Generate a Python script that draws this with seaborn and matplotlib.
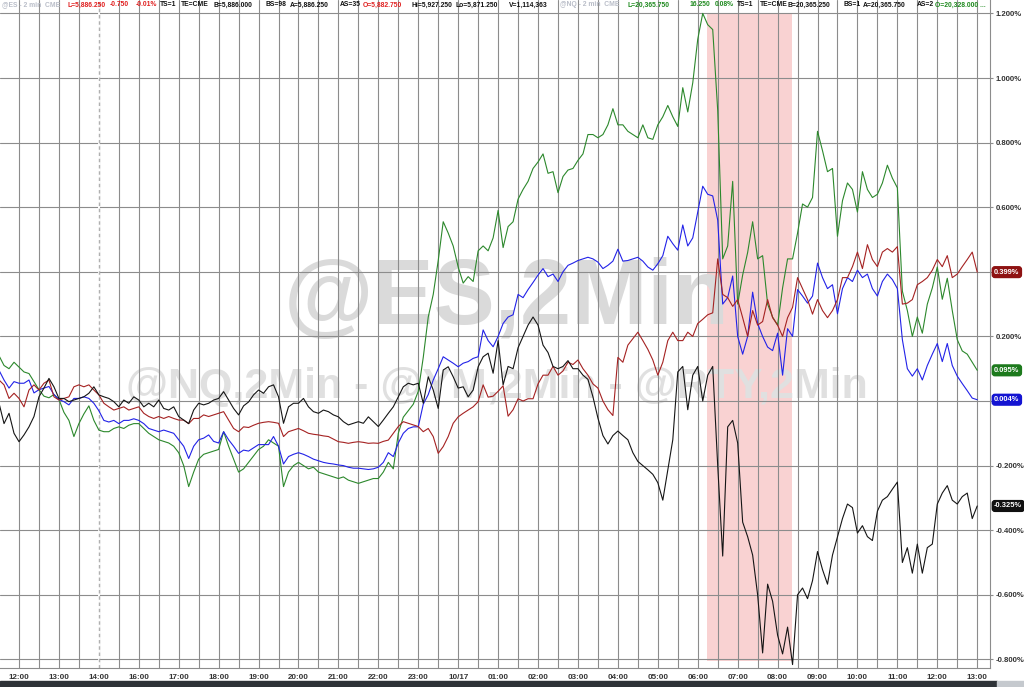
import numpy as np
import pandas as pd
import matplotlib
matplotlib.use('Agg')
import matplotlib.pyplot as plt
from matplotlib.patches import Rectangle
import seaborn as sns

# session clock labels (one per hour, 15:00 is the break so it is skipped)
hour_labels = ['12:00', '13:00', '14:00', '16:00', '17:00', '18:00', '19:00', '20:00',
               '21:00', '22:00', '23:00', '10/17', '01:00', '02:00', '03:00', '04:00',
               '05:00', '06:00', '07:00', '08:00', '09:00', '10:00', '11:00', '12:00', '13:00']

# % change, one reading every 7.5 minutes starting 11:30
nq = [0.14, 0.11, 0.10, 0.12, 0.105, 0.09, 0.085, 0.06, 0.035, 0.015,
      0.01, 0.02, 0.005, -0.035, -0.06, -0.11, -0.07, -0.04, -0.015, -0.06,
      -0.09, -0.095, -0.095, -0.085, -0.08, -0.085, -0.075, -0.07, -0.07, -0.085,
      -0.10, -0.11, -0.12, -0.125, -0.13, -0.14, -0.16, -0.2, -0.265, -0.22,
      -0.18, -0.165, -0.16, -0.155, -0.15, -0.095, -0.14, -0.18, -0.22, -0.21,
      -0.19, -0.17, -0.15, -0.14, -0.12, -0.13, -0.14, -0.265, -0.22, -0.2,
      -0.19, -0.2, -0.21, -0.205, -0.22, -0.225, -0.23, -0.235, -0.24, -0.235,
      -0.245, -0.25, -0.255, -0.25, -0.245, -0.24, -0.24, -0.22, -0.19, -0.21,
      -0.10, -0.05, -0.03, -0.01, 0.03, 0.135, 0.26, 0.33, 0.435, 0.555,
      0.52, 0.48, 0.415, 0.365, 0.385, 0.37, 0.465, 0.48, 0.465, 0.505,
      0.59, 0.475, 0.54, 0.555, 0.625, 0.655, 0.68, 0.72, 0.74, 0.765,
      0.705, 0.71, 0.645, 0.695, 0.715, 0.72, 0.745, 0.765, 0.825, 0.825,
      0.815, 0.825, 0.855, 0.905, 0.855, 0.855, 0.835, 0.825, 0.815, 0.855,
      0.815, 0.81, 0.855, 0.88, 0.915, 0.88, 0.85, 0.97, 0.895, 0.985,
      1.12, 1.2, 1.165, 1.15, 0.9, 0.44, 0.48, 0.68, 0.3, 0.39,
      0.46, 0.555, 0.44, 0.45, 0.3, 0.26, 0.235, 0.35, 0.44, 0.44,
      0.52, 0.61, 0.6, 0.63, 0.835, 0.775, 0.71, 0.72, 0.51, 0.62,
      0.675, 0.655, 0.585, 0.71, 0.655, 0.63, 0.64, 0.675, 0.73, 0.69,
      0.66, 0.34, 0.28, 0.2, 0.26, 0.21, 0.3, 0.35, 0.415, 0.315,
      0.38, 0.28, 0.19, 0.155, 0.145, 0.12, 0.095]

es = [0.095, 0.065, 0.04, 0.06, 0.055, 0.055, 0.065, 0.025, 0.035, 0.04,
      0.045, 0.02, 0.005, -0.002, -0.012, 0.008, 0.008, 0.013, 0.008, -0.007,
      -0.03, -0.06, -0.065, -0.06, -0.07, -0.06, -0.06, -0.055, -0.06, -0.07,
      -0.085, -0.09, -0.095, -0.09, -0.095, -0.1, -0.12, -0.14, -0.178, -0.14,
      -0.12, -0.115, -0.105, -0.125, -0.13, -0.095, -0.12, -0.14, -0.162, -0.152,
      -0.155, -0.145, -0.135, -0.135, -0.135, -0.11, -0.14, -0.195, -0.172, -0.165,
      -0.16, -0.165, -0.172, -0.18, -0.185, -0.19, -0.193, -0.195, -0.198, -0.2,
      -0.205, -0.208, -0.208, -0.21, -0.212, -0.21, -0.205, -0.19, -0.16, -0.172,
      -0.13, -0.1, -0.085, -0.08, -0.08, -0.01, 0.02, 0.065, 0.1, 0.137,
      0.127, 0.117, 0.106, 0.117, 0.122, 0.132, 0.137, 0.22, 0.187, 0.168,
      0.2, 0.24, 0.26, 0.267, 0.33, 0.32, 0.345, 0.367, 0.39, 0.41,
      0.385, 0.393, 0.37, 0.4, 0.42, 0.427, 0.435, 0.44, 0.445, 0.44,
      0.43, 0.41, 0.42, 0.433, 0.47, 0.433, 0.435, 0.44, 0.445, 0.433,
      0.415, 0.405, 0.425, 0.45, 0.51, 0.487, 0.467, 0.545, 0.48, 0.505,
      0.585, 0.665, 0.64, 0.635, 0.56, 0.3, 0.32, 0.387, 0.2, 0.145,
      0.2, 0.337, 0.24, 0.2, 0.167, 0.156, 0.21, 0.08, 0.224, 0.2,
      0.345, 0.325, 0.303, 0.325, 0.427, 0.382, 0.348, 0.36, 0.27, 0.348,
      0.382, 0.37, 0.405, 0.382, 0.393, 0.348, 0.325, 0.37, 0.393, 0.376,
      0.348, 0.19, 0.1, 0.077, 0.1, 0.065, 0.11, 0.145, 0.178, 0.122,
      0.178, 0.11, 0.077, 0.054, 0.032, 0.009, 0.004]

ym = [0.065, 0.05, 0.008, 0.024, 0.008, -0.018, 0.034, 0.05, 0.034, 0.055,
      0.065, 0.013, 0.003, 0.008, 0.013, 0.044, 0.05, 0.044, 0.05, 0.034,
      0.019, -0.007, -0.018, -0.028, -0.023, -0.018, -0.028, -0.023, -0.018, -0.038,
      -0.048, -0.054, -0.048, -0.054, -0.048, -0.054, -0.059, -0.059, -0.07, -0.054,
      -0.054, -0.043, -0.048, -0.043, -0.038, -0.033, -0.059, -0.085, -0.095, -0.08,
      -0.082, -0.075, -0.069, -0.066, -0.064, -0.066, -0.069, -0.11, -0.095, -0.09,
      -0.085, -0.092, -0.1, -0.103, -0.105, -0.108, -0.11, -0.118, -0.126, -0.128,
      -0.131, -0.128, -0.126, -0.128, -0.131, -0.13, -0.131, -0.125, -0.121, -0.1,
      -0.079, -0.064, -0.069, -0.074, -0.079, -0.095, -0.085, -0.11, -0.162, -0.141,
      -0.11, -0.069, -0.049, -0.038, -0.028, -0.018, -0.002, 0.05, 0.012, 0.015,
      0.03, 0.047, -0.047, -0.027, 0.007, 0.0, 0.007, 0.007, 0.053, 0.08,
      0.08, 0.107, 0.08, 0.093, 0.12, 0.113, 0.127, 0.1, 0.08, 0.053,
      0.04, 0.0, -0.027, -0.045, 0.135, 0.12, 0.173, 0.193, 0.213, 0.187,
      0.16, 0.127, 0.08, 0.12, 0.187, 0.213, 0.187, 0.187, 0.213, 0.2,
      0.24, 0.253, 0.267, 0.273, 0.44, 0.33, 0.32, 0.293, 0.314, 0.258,
      0.2, 0.28, 0.235, 0.246, 0.314, 0.258, 0.235, 0.2, 0.258, 0.29,
      0.382, 0.348, 0.314, 0.269, 0.314, 0.28, 0.258, 0.28, 0.314, 0.382,
      0.382, 0.416, 0.461, 0.41, 0.484, 0.438, 0.416, 0.461, 0.472, 0.461,
      0.478, 0.3, 0.303, 0.314, 0.36, 0.37, 0.382, 0.405, 0.438, 0.416,
      0.45, 0.382, 0.393, 0.416, 0.438, 0.461, 0.399]

rty = [-0.007, -0.07, -0.038, -0.1, -0.126, -0.105, -0.08, -0.048, 0.013, 0.04,
       0.07, 0.044, 0.008, 0.008, -0.002, 0.003, 0.008, 0.013, 0.024, 0.044,
       0.019, 0.013, 0.008, -0.002, -0.018, 0.003, -0.007, 0.013, 0.003, -0.018,
       -0.007, -0.018, 0.003, -0.023, -0.028, -0.018, -0.048, -0.059, -0.07, -0.028,
       -0.007, -0.012, -0.007, 0.003, 0.008, 0.029, 0.003, -0.023, -0.043, -0.015,
       -0.003, 0.019, 0.034, 0.024, 0.044, 0.05, 0.013, -0.069, -0.018, -0.007,
       -0.007, 0.008, -0.018, -0.033, -0.038, -0.028, -0.033, -0.043, -0.049, -0.064,
       -0.074, -0.069, -0.064, -0.069, -0.049, -0.064, -0.079, -0.059, -0.038, -0.018,
       0.013, 0.044, 0.055, 0.05, 0.055, -0.007, 0.075, 0.034, -0.023, 0.096,
       0.106, 0.075, 0.04, 0.044, 0.013, 0.034, 0.106, 0.137, 0.148, 0.086,
       0.187, 0.05, 0.107, 0.1, 0.165, 0.2, 0.235, 0.26, 0.235, 0.173,
       0.15, 0.107, 0.1, 0.107, 0.125, 0.1, 0.1, 0.08, 0.067, 0.013,
       -0.053, -0.107, -0.133, -0.107, -0.093, -0.107, -0.12, -0.16, -0.187, -0.2,
       -0.213, -0.227, -0.253, -0.307, -0.213, -0.12, 0.09, 0.107, -0.027, 0.08,
       0.107, 0.0, 0.08, 0.107, -0.2, -0.48, -0.08, -0.06, -0.13, -0.375,
       -0.42, -0.477, -0.6, -0.78, -0.567, -0.62, -0.725, -0.783, -0.7, -0.816,
       -0.6, -0.579, -0.612, -0.556, -0.466, -0.522, -0.567, -0.477, -0.42, -0.364,
       -0.319, -0.33, -0.409, -0.386, -0.42, -0.432, -0.341, -0.307, -0.296, -0.273,
       -0.251, -0.5, -0.454, -0.533, -0.443, -0.533, -0.454, -0.443, -0.319, -0.285,
       -0.262, -0.307, -0.319, -0.296, -0.285, -0.364, -0.325]

series = {'NQ': nq, 'ES': es, 'YM': ym, 'RTY': rty}
line_colors = {'NQ': '#2c882c', 'ES': '#2222e8', 'YM': '#a52222', 'RTY': '#151515'}
badge_colors = {'NQ': '#1d7a1d', 'ES': '#1414d2', 'YM': '#8e1212', 'RTY': '#101010'}

# highlighted window (session hours) and its price band
hl_start, hl_end = 17.22, 19.37
hl_low, hl_high = -0.805, 1.2

frames = []
for sym, vals in series.items():
    t = -0.5 + 0.125 * np.arange(len(vals))
    frames.append(pd.DataFrame({'t': t, 'pct': vals, 'sym': sym}))
df = pd.concat(frames, ignore_index=True)

sns.set_style('white')
plt.rcParams['font.family'] = ['Liberation Sans', 'DejaVu Sans']

fig = plt.figure(figsize=(10.24, 6.87), dpi=100)
ax = fig.add_axes([0, 19 / 687, 990 / 1024, 668 / 687])

# pink highlight box
ax.fill_between([hl_start, hl_end], hl_low, hl_high, color='#f9d2d2', lw=0, zorder=0.1)

# watermarks
ax.text(0.512, 0.551, '@ES,2Min', transform=ax.transAxes, ha='center', va='center',
        fontsize=66, fontweight='bold', color='#dadada', zorder=0.2)
ax.text(0.502, 0.421, '@NQ,2Min - @YM,2Min - @RTY,2Min', transform=ax.transAxes,
        ha='center', va='center', fontsize=31, fontweight='bold', color='#e0e0e0', zorder=0.2)

sns.lineplot(data=df, x='t', y='pct', hue='sym', palette=line_colors, linewidth=0.8,
             estimator=None, sort=False, legend=False, ax=ax, zorder=3)

ax.set_xlim(-0.476, 24.32)
ax.set_ylim(-0.8266, 1.2415)
ax.set_xlabel('')
ax.set_ylabel('')

ax.set_xticks(np.arange(len(hour_labels)))
ax.set_xticklabels(hour_labels)
ax.set_xticks(np.arange(0.5, len(hour_labels) - 0.5, 1.0), minor=True)

yt = np.round(np.arange(-0.8, 1.21, 0.2), 1)
ax.yaxis.tick_right()
ax.set_yticks(yt)
ax.set_yticklabels(['' if abs(v) < 1e-9 or abs(v - 0.4) < 1e-9 else f'{v:.3f}%' for v in yt])

ax.set_axisbelow(True)
ax.grid(True, which='both', color='#8c8c8c', lw=0.8)
ax.tick_params(axis='x', which='both', length=3, color='#8c8c8c', labelsize=5.8,
               labelcolor='#333333', pad=1.5)
ax.tick_params(axis='y', length=2.5, color='#8c8c8c', labelsize=5.6, labelcolor='#333333',
               pad=1.5, right=True, left=False)
for lab in ax.get_xticklabels() + ax.get_yticklabels():
    lab.set_fontweight('bold')

for side in ['left', 'top']:
    ax.spines[side].set_visible(False)
for side in ['right', 'bottom']:
    ax.spines[side].set_color('#8c8c8c')
    ax.spines[side].set_linewidth(0.8)

# session-break marker at 14:00
ax.axvline(2, color='white', lw=1.4, zorder=0.6)
ax.axvline(2, color='#b0b0b0', lw=1.0, ls=(0, (2.5, 2)), zorder=0.7)

# last-value badges on the price scale
for sym, vals in series.items():
    ax.annotate(f'{vals[-1]:.3f}%', xy=(1.0, vals[-1]), xycoords=('axes fraction', 'data'),
                xytext=(3, 0), textcoords='offset points', ha='left', va='center',
                fontsize=5.4, fontweight='bold', color='white', annotation_clip=False,
                bbox=dict(boxstyle='round,pad=0.25,rounding_size=0.35',
                          fc=badge_colors[sym], ec=badge_colors[sym]), zorder=6)

# quote header
header = [(2, '@ES - 2 min  CME', '#b9bdc8'), (68, 'L=5,886.250', '#e02020'),
          (110, '-0.750', '#e02020'), (136, '-0.01%', '#e02020'), (160, 'TS=1', '#111111'),
          (181, 'TE=CME', '#111111'), (214, 'B=5,886.000', '#111111'),
          (265, 'BS=98', '#111111'), (290, 'A=5,886.250', '#111111'),
          (340, 'AS=35', '#111111'), (363, 'O=5,882.750', '#e02020'),
          (412, 'Hi=5,927.250', '#111111'), (455, 'Lo=5,871.250', '#111111'),
          (509, 'V=1,114,363', '#111111'), (560, '@NQ - 2 min  CME', '#b9bdc8'),
          (627, 'L=20,365.750', '#1f8a1f'), (690, '16.250', '#1f8a1f'),
          (715, '0.08%', '#1f8a1f'), (737, 'TS=1', '#111111'), (760, 'TE=CME', '#111111'),
          (787, 'B=20,365.250', '#111111'), (843, 'BS=1', '#111111'),
          (863, 'A=20,365.750', '#111111'), (917, 'AS=2', '#111111'),
          (935, 'O=20,328.000 ...', '#1f8a1f')]
for xp, txt, col in header:
    fig.text(xp / 1024, 1 - 5 / 687, txt, color=col, fontsize=4.85, fontweight='bold',
             ha='left', va='center')

# dark status strip at the bottom
fig.patches.append(Rectangle((0, 0), 997 / 1024, 6 / 687, transform=fig.transFigure,
                             color='#2e3237', zorder=10))
fig.patches.append(Rectangle((997 / 1024, 0), 27 / 1024, 6 / 687, transform=fig.transFigure,
                             color='#c5c9ce', zorder=10))

fig.savefig('out.png', dpi=100, facecolor='white')
